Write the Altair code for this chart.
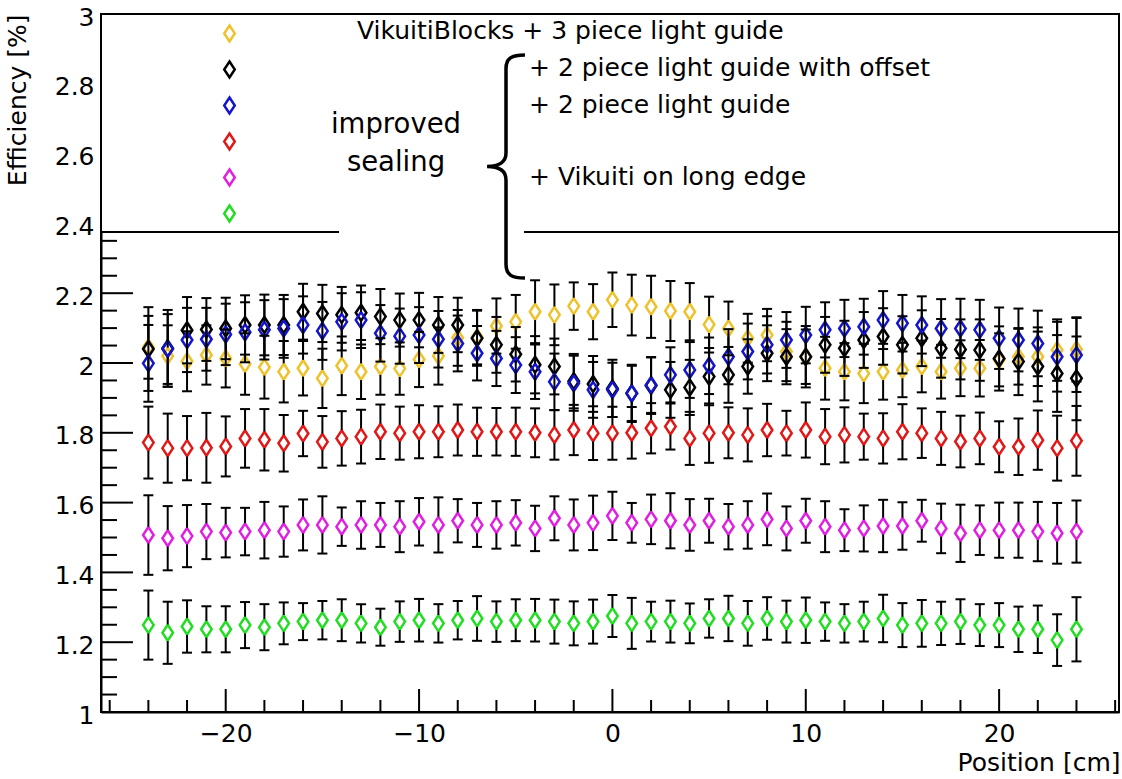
import altair as alt
import pandas as pd
import numpy as np

# ---------------- data ----------------
POSITION = [-24, -23, -22, -21, -20, -19, -18, -17, -16, -15, -14, -13, -12, -11, -10, -9, -8, -7, -6, -5,
            -4, -3, -2, -1, 0, 1, 2, 3, 4, 5, 6, 7, 8, 9, 10, 11, 12, 13, 14, 15, 16, 17, 18, 19, 20,
            21, 22, 23, 24]

SERIES = ["VikuitiBlocks + 3 piece light guide",
          "+ 2 piece light guide with offset",
          "+ 2 piece light guide",
          "improved sealing",
          "+ Vikuiti on long edge",
          "improved sealing (2)"]
COLORS = ["#EEC22C", "#000000", "#1414CC", "#E01818", "#E020E0", "#22DD22"]

yellow = [2.045, 2.020, 2.005, 2.023, 2.013, 1.997, 1.988, 1.975, 1.985, 1.956,
          1.992, 1.975, 1.990, 1.984, 2.010, 2.020, 2.072, 2.074, 2.106, 2.118,
          2.147, 2.138, 2.163, 2.147, 2.181, 2.166, 2.161, 2.149, 2.147, 2.110,
          2.099, 2.071, 2.080, 2.033, 2.018, 1.985, 1.975, 1.970, 1.975, 1.980,
          1.990, 1.975, 1.985, 1.985, 2.009, 2.018, 2.018, 2.037, 2.039]
yellow_err = [0.090, 0.088, 0.086, 0.085, 0.083, 0.088, 0.090, 0.088, 0.078, 0.085,
              0.084, 0.078, 0.081, 0.075, 0.079, 0.082, 0.080, 0.078, 0.079, 0.077,
              0.090, 0.087, 0.068, 0.079, 0.078, 0.087, 0.089, 0.086, 0.082, 0.080,
              0.077, 0.070, 0.075, 0.085, 0.088, 0.090, 0.082, 0.085, 0.080, 0.078,
              0.074, 0.077, 0.080, 0.081, 0.076, 0.080, 0.084, 0.088, 0.092]

black = [2.040, 2.042, 2.094, 2.096, 2.099, 2.109, 2.109, 2.109, 2.147, 2.142,
         2.138, 2.144, 2.133, 2.123, 2.123, 2.109, 2.109, 2.071, 2.052, 2.025,
         1.995, 1.990, 1.948, 1.940, 1.927, 1.913, 1.935, 1.923, 1.930, 1.961,
         1.966, 1.990, 2.028, 2.018, 2.018, 2.052, 2.042, 2.066, 2.076, 2.052,
         2.071, 2.042, 2.039, 2.037, 2.013, 2.004, 1.990, 1.970, 1.956]
black_err = [0.120, 0.110, 0.095, 0.090, 0.088, 0.085, 0.087, 0.086, 0.080, 0.082,
             0.080, 0.078, 0.079, 0.076, 0.078, 0.080, 0.078, 0.079, 0.080, 0.078,
             0.082, 0.080, 0.078, 0.080, 0.082, 0.079, 0.081, 0.080, 0.079, 0.082,
             0.080, 0.078, 0.080, 0.079, 0.078, 0.080, 0.079, 0.080, 0.081, 0.082,
             0.080, 0.084, 0.086, 0.088, 0.092, 0.096, 0.100, 0.110, 0.120]

blue = [1.999, 2.040, 2.066, 2.068, 2.082, 2.088, 2.095, 2.099, 2.109, 2.092,
        2.118, 2.123, 2.085, 2.077, 2.080, 2.068, 2.056, 2.028, 2.013, 1.994,
        1.975, 1.946, 1.942, 1.923, 1.923, 1.913, 1.937, 1.966, 1.980, 1.992,
        2.018, 2.033, 2.052, 2.066, 2.080, 2.095, 2.099, 2.104, 2.123, 2.114,
        2.109, 2.099, 2.099, 2.095, 2.071, 2.066, 2.056, 2.018, 2.023]
blue_err = [0.110, 0.100, 0.092, 0.090, 0.088, 0.086, 0.085, 0.084, 0.082, 0.083,
            0.082, 0.080, 0.081, 0.079, 0.080, 0.081, 0.080, 0.078, 0.079, 0.080,
            0.078, 0.081, 0.079, 0.080, 0.078, 0.082, 0.080, 0.079, 0.080, 0.081,
            0.079, 0.080, 0.082, 0.080, 0.081, 0.079, 0.082, 0.080, 0.083, 0.081,
            0.082, 0.084, 0.085, 0.086, 0.088, 0.090, 0.094, 0.100, 0.106]

red = [1.772, 1.756, 1.756, 1.757, 1.761, 1.784, 1.780, 1.770, 1.798, 1.774,
       1.784, 1.789, 1.803, 1.799, 1.803, 1.803, 1.808, 1.803, 1.803, 1.803,
       1.800, 1.794, 1.808, 1.799, 1.799, 1.800, 1.813, 1.818, 1.784, 1.799,
       1.800, 1.794, 1.808, 1.799, 1.808, 1.789, 1.794, 1.789, 1.784, 1.803,
       1.799, 1.784, 1.775, 1.784, 1.760, 1.760, 1.779, 1.756, 1.777]
red_err = [0.103, 0.099, 0.092, 0.100, 0.086, 0.084, 0.088, 0.081, 0.065, 0.074,
           0.078, 0.077, 0.078, 0.076, 0.076, 0.073, 0.073, 0.069, 0.068, 0.069,
           0.070, 0.071, 0.072, 0.077, 0.076, 0.074, 0.072, 0.066, 0.076, 0.085,
           0.073, 0.076, 0.075, 0.064, 0.079, 0.079, 0.079, 0.066, 0.072, 0.079,
           0.071, 0.076, 0.074, 0.074, 0.073, 0.081, 0.085, 0.093, 0.100]

magenta = [1.507, 1.498, 1.504, 1.517, 1.514, 1.517, 1.521, 1.517, 1.536, 1.536,
           1.531, 1.536, 1.536, 1.531, 1.545, 1.536, 1.548, 1.536, 1.536, 1.542,
           1.526, 1.555, 1.536, 1.542, 1.562, 1.542, 1.552, 1.548, 1.536, 1.548,
           1.531, 1.536, 1.552, 1.526, 1.548, 1.531, 1.521, 1.526, 1.533, 1.533,
           1.548, 1.526, 1.512, 1.521, 1.521, 1.521, 1.517, 1.512, 1.517]
magenta_err = [0.114, 0.092, 0.089, 0.079, 0.071, 0.068, 0.081, 0.072, 0.073, 0.082,
               0.055, 0.068, 0.063, 0.073, 0.068, 0.079, 0.062, 0.063, 0.068, 0.065,
               0.065, 0.063, 0.073, 0.078, 0.069, 0.057, 0.071, 0.079, 0.074, 0.063,
               0.065, 0.068, 0.074, 0.063, 0.063, 0.073, 0.060, 0.066, 0.075, 0.068,
               0.060, 0.071, 0.082, 0.071, 0.079, 0.079, 0.085, 0.087, 0.089]

green = [1.249, 1.227, 1.245, 1.237, 1.237, 1.249, 1.243, 1.254, 1.259, 1.263,
         1.263, 1.254, 1.243, 1.259, 1.263, 1.254, 1.263, 1.268, 1.259, 1.263,
         1.263, 1.259, 1.254, 1.259, 1.275, 1.254, 1.259, 1.259, 1.254, 1.268,
         1.268, 1.254, 1.268, 1.259, 1.263, 1.259, 1.254, 1.259, 1.268, 1.249,
         1.254, 1.254, 1.259, 1.249, 1.249, 1.237, 1.237, 1.206, 1.237]
green_err = [0.099, 0.089, 0.075, 0.066, 0.066, 0.066, 0.066, 0.060, 0.053, 0.055,
             0.060, 0.055, 0.053, 0.058, 0.061, 0.055, 0.055, 0.064, 0.058, 0.060,
             0.061, 0.063, 0.063, 0.063, 0.060, 0.073, 0.057, 0.060, 0.057, 0.055,
             0.065, 0.064, 0.061, 0.060, 0.065, 0.055, 0.055, 0.057, 0.068, 0.063,
             0.067, 0.062, 0.064, 0.060, 0.063, 0.065, 0.068, 0.074, 0.092]

Y_MAJOR = [1.0, 1.2, 1.4, 1.6, 1.8, 2.0, 2.2, 2.4, 2.6, 2.8, 3.0]
X_MAJOR = [-20, -10, 0, 10, 20]
X_MINOR = [-26, -24, -22, -18, -16, -14, -12, -8, -6, -4, -2, 2, 4, 6, 8, 12, 14, 16, 18, 22, 24, 26]

# ---------------- styling constants ----------------
FONT = "DejaVu Sans"
W, H = 1018, 698
GAP = 0.024  # error bar gap hidden by the open marker (data units)
DIAMOND = "M0,-1L0.66,0L0,1L-0.66,0Z"
BRACE = ("M0.17,-1C0.05,-1 0,-0.97 0,-0.88L0,-0.12C0,-0.04 -0.06,0 -0.17,0"
         "C-0.06,0 0,0.04 0,0.12L0,0.88C0,0.97 0.05,1 0.17,1")

values = [yellow, black, blue, red, magenta, green]
errors = [yellow_err, black_err, blue_err, red_err, magenta_err, green_err]
rows = []
for name, vals, errs in zip(SERIES, values, errors):
    for x, v, e in zip(POSITION, vals, errs):
        rows.append({"series": name, "x": x, "y": v, "err": e})
df = pd.DataFrame(rows)

XS = alt.Scale(domain=[-26.45, 26.2], nice=False, zero=False)
YS = alt.Scale(domain=[1, 3], nice=False, zero=False)

AX_X = alt.Axis(
    values=X_MAJOR, ticks=False, grid=False, domain=True, domainColor="black", domainWidth=2,
    labelFont=FONT, labelFontSize=25, labelColor="black", labelPadding=9,
    title="Position [cm]", titleFont=FONT, titleFontSize=25, titleFontWeight="normal",
    titleColor="black", titleAlign="right", titleBaseline="alphabetic", titleX=W + 1, titleY=58)
AX_Y = alt.Axis(
    values=Y_MAJOR, format="~g", ticks=False, grid=False, domain=True, domainColor="black",
    domainWidth=2, labelFont=FONT, labelFontSize=25, labelColor="black", labelPadding=7,
    labelOffset=3, title="Efficiency [%]", titleFont=FONT, titleFontSize=25,
    titleFontWeight="normal", titleColor="black", titleAngle=-90, titleAlign="right",
    titleBaseline="alphabetic", titleX=-76, titleY=0)


def X(field):
    return alt.X(field, scale=XS, axis=AX_X)


def Y(field):
    return alt.Y(field, scale=YS, axis=AX_Y)


y_minor = [v for v in np.round(np.arange(1.0, 3.0001, 0.05), 2).tolist() if v not in Y_MAJOR]

# ---------------- layers ----------------
points = alt.Chart(df).mark_point(shape=DIAMOND, filled=False, size=256, strokeWidth=2.5, opacity=1).encode(
    x=X("x:Q"), y=Y("y:Q"),
    color=alt.Color("series:N", scale=alt.Scale(domain=SERIES, range=COLORS), legend=alt.Legend(
        orient="none", legendX=119, legendY=10, title=None, labelExpr="''", labelFontSize=1,
        symbolType=DIAMOND, symbolSize=256, symbolStrokeWidth=2.5, symbolOpacity=1,
        rowPadding=9, padding=0, offset=0)),
    order=alt.Order("series:N", sort="descending"),
)

ytick_major = alt.Chart(pd.DataFrame({"v": Y_MAJOR})).mark_rule(color="black", strokeWidth=2).encode(
    y=Y("v:Q"), x=alt.value(0), x2=alt.value(32))
ytick_minor = alt.Chart(pd.DataFrame({"v": y_minor})).mark_rule(color="black", strokeWidth=2).encode(
    y=Y("v:Q"), x=alt.value(0), x2=alt.value(16))
xtick_major = alt.Chart(pd.DataFrame({"v": X_MAJOR})).mark_rule(color="black", strokeWidth=2).encode(
    x=X("v:Q"), y=alt.value(H), y2=alt.value(H - 23))
xtick_minor = alt.Chart(pd.DataFrame({"v": X_MINOR})).mark_rule(color="black", strokeWidth=2).encode(
    x=X("v:Q"), y=alt.value(H), y2=alt.value(H - 12))

base = alt.Chart(df).transform_calculate(
    lo="datum.y - datum.err", hi="datum.y + datum.err",
    lo_in=f"datum.y - {GAP}", hi_in=f"datum.y + {GAP}")

bar_lo = base.mark_rule(color="black", strokeWidth=2).encode(x=X("x:Q"), y=Y("lo:Q"), y2="lo_in:Q")
bar_hi = base.mark_rule(color="black", strokeWidth=2).encode(x=X("x:Q"), y=Y("hi_in:Q"), y2="hi:Q")
caps = base.transform_fold(["lo", "hi"], as_=["end", "val"]).mark_tick(
    orient="horizontal", color="black", size=10, thickness=2, opacity=1).encode(
    x=X("x:Q"), y=Y("val:Q"))

one = pd.DataFrame({"k": [0]})
legend_box = alt.Chart(one).mark_rect(color="white").encode(
    x=alt.value(1), x2=alt.value(W - 1), y=alt.value(1), y2=alt.value(218))
box_line_l = alt.Chart(one).mark_rule(color="black", strokeWidth=2).encode(
    x=alt.value(0), x2=alt.value(238), y=alt.value(218))
box_line_r = alt.Chart(one).mark_rule(color="black", strokeWidth=2).encode(
    x=alt.value(423), x2=alt.value(W), y=alt.value(218))
brace = alt.Chart(one).mark_point(shape=BRACE, filled=False, size=223 * 223, strokeWidth=3.5,
                                  color="black", opacity=1).encode(
    x=alt.value(405), y=alt.value(152.5))


def label(txt, x, y, size=25, align="left"):
    return alt.Chart(pd.DataFrame({"t": [txt]})).mark_text(
        align=align, baseline="alphabetic", font=FONT, fontSize=size, color="black").encode(
        x=alt.value(x), y=alt.value(y), text="t:N")


texts = [
    label(SERIES[0], 256, 25),
    label(SERIES[1], 428, 62),
    label(SERIES[2], 428, 99),
    label(SERIES[4], 428, 171),
    label("improved", 295, 119, size=27.5, align="center"),
    label("sealing", 295, 157, size=27.5, align="center"),
]

chart = alt.layer(
    points, ytick_major, ytick_minor, xtick_major, xtick_minor, bar_lo, bar_hi, caps,
    legend_box, box_line_l, box_line_r, brace, *texts,
).properties(
    width=W, height=H,
    padding={"left": 101, "top": 14, "right": 3, "bottom": 67},
    autosize=alt.AutoSizeParams(type="none"),
    background="white",
).configure_view(stroke="black", strokeWidth=2)

chart.save("out.html", embed_options={"renderer": "svg", "actions": False})
